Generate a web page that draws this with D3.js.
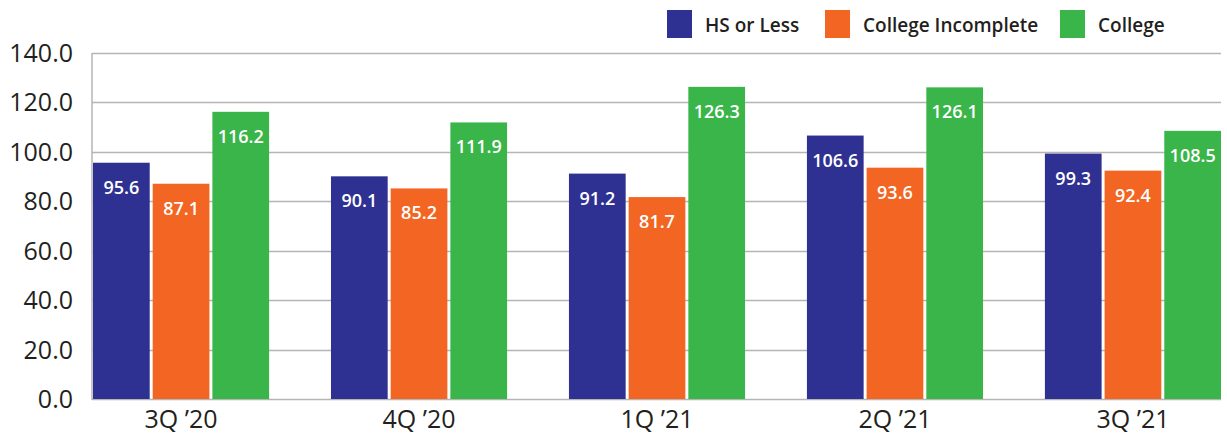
<!DOCTYPE html>
<html>
<head>
<meta charset="utf-8">
<script src="https://cdn.jsdelivr.net/npm/d3@7"></script>
<style>
  body { margin: 0; background: #fff; }
  svg text { font-family: "Open Sans", Lato, sans-serif; fill: #231f20; }
</style>
</head>
<body>
<svg id="chart" width="1227" height="436"></svg>
<script>
var quarters = ['3Q \u201920', '4Q \u201920', '1Q \u201921', '2Q \u201921', '3Q \u201921']
var seriesNames = ['HS or Less', 'College Incomplete', 'College']
var hsOrLess = [95.6, 90.1, 91.2, 106.6, 99.3]
var collegeIncomplete = [87.1, 85.2, 81.7, 93.6, 92.4]
var college = [116.2, 111.9, 126.3, 126.1, 108.5]
var yTicks = [0, 20, 40, 60, 80, 100, 120, 140]
var colors = ['#2e3192', '#f26522', '#39b54a']

;(function (d3) {
  var series = [hsOrLess, collegeIncomplete, college]
  var svg = d3.select('#chart')

  var mLeft = 92, mRight = 1221, mTop = 53, mBottom = 399

  var y = d3.scaleLinear().domain([0, 140]).range([mBottom, mTop])
  var x = d3.scaleBand().domain(quarters).range([mLeft + 1, mRight]).paddingInner(0.26).paddingOuter(0)
  var x1 = d3.scaleBand().domain(d3.range(3)).range([0, x.bandwidth()]).paddingInner(0.05)

  // gridlines
  svg.append('g').selectAll('line')
    .data(yTicks)
    .enter()
    .append('line')
    .attr('x1', mLeft).attr('x2', mRight)
    .attr('y1', function (d) { return Math.round(y(d)) + 0.5 })
    .attr('y2', function (d) { return Math.round(y(d)) + 0.5 })
    .attr('stroke', '#b5b5b5')
    .attr('stroke-width', 1.5)

  svg.append('line')
    .attr('x1', mLeft).attr('x2', mLeft)
    .attr('y1', mTop).attr('y2', mBottom + 1)
    .attr('stroke', '#b5b5b5').attr('stroke-width', 1.5)

  // y labels
  svg.append('g').selectAll('text')
    .data(yTicks)
    .enter()
    .append('text')
    .attr('x', 73)
    .attr('y', function (d) { return y(d) + 9 })
    .attr('text-anchor', 'end')
    .style('font-size', '25px')
    .text(function (d) { return d3.format('.1f')(d) })

  // bars
  var groups = svg.append('g').selectAll('g')
    .data(quarters)
    .enter()
    .append('g')
    .attr('transform', function (d) { return 'translate(' + x(d) + ',0)' })

  var cells = function (d, i) {
    return series.map(function (s, j) { return {v: s[i], k: j} })
  }

  groups.selectAll('rect')
    .data(cells)
    .enter()
    .append('rect')
    .attr('x', function (d) { return x1(d.k) })
    .attr('width', x1.bandwidth())
    .attr('y', function (d) { return y(d.v) })
    .attr('height', function (d) { return mBottom - y(d.v) })
    .attr('fill', function (d) { return colors[d.k] })

  groups.selectAll('text.val')
    .data(cells)
    .enter()
    .append('text')
    .attr('class', 'val')
    .attr('x', function (d) { return x1(d.k) + x1.bandwidth() / 2 })
    .attr('y', function (d) { return y(d.v) + 31 })
    .attr('text-anchor', 'middle')
    .style('font-size', '18px')
    .style('font-weight', '600')
    .style('fill', '#fff')
    .text(function (d) { return d3.format('.1f')(d.v) })

  // x labels
  svg.append('g').selectAll('text')
    .data(quarters)
    .enter()
    .append('text')
    .attr('x', function (d) { return x(d) + x.bandwidth() / 2 })
    .attr('y', 428)
    .attr('text-anchor', 'middle')
    .style('font-size', '25px')
    .text(function (d) { return d })

  // legend
  var legendX = [667, 825, 1060]
  var legend = svg.append('g').selectAll('g')
    .data(seriesNames)
    .enter()
    .append('g')
    .attr('transform', function (d, i) { return 'translate(' + legendX[i] + ',10)' })

  legend.append('rect')
    .attr('width', 25).attr('height', 28)
    .attr('fill', function (d, i) { return colors[i] })

  legend.append('text')
    .attr('x', 38).attr('y', 22)
    .style('font-size', '19px')
    .style('font-weight', '600')
    .text(function (d) { return d })
})(window.d3)
</script>
</body>
</html>
